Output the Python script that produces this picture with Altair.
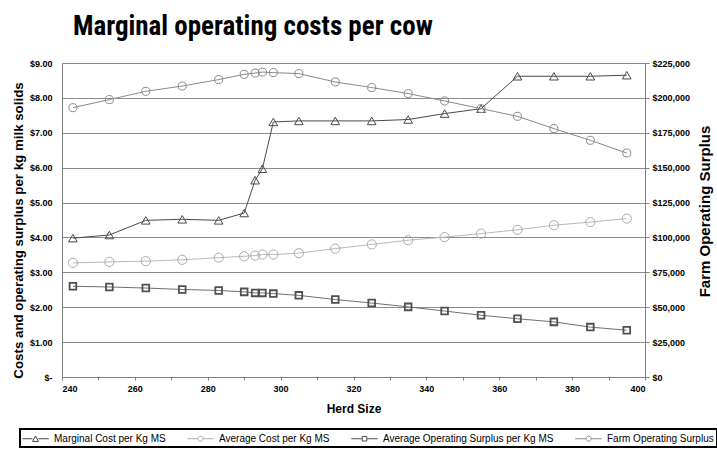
import altair as alt
import pandas as pd

# Herd sizes along the x axis
herd_size = [243, 253, 263, 273, 283, 290, 293, 295, 298, 305,
             315, 325, 335, 345, 355, 365, 375, 385, 395]

# $ per kg milk solids (left axis)
marginal_cost = [3.98, 4.07, 4.49, 4.52, 4.49, 4.70, 5.64, 5.97, 7.31, 7.34,
                 7.34, 7.34, 7.38, 7.55, 7.69, 8.62, 8.62, 8.62, 8.65]
average_cost = [3.27, 3.30, 3.32, 3.36, 3.42, 3.46, 3.48, 3.51, 3.51, 3.55,
                3.68, 3.80, 3.92, 4.01, 4.11, 4.22, 4.35, 4.44, 4.54]
average_surplus = [2.60, 2.58, 2.55, 2.51, 2.48, 2.44, 2.41, 2.41, 2.39, 2.34,
                   2.22, 2.12, 2.01, 1.89, 1.77, 1.67, 1.58, 1.43, 1.34]

# Whole-farm operating surplus in $ (right axis)
farm_surplus = [193000, 198800, 204700, 208500, 213100, 216900, 217800, 218500,
                218100, 217400, 211400, 207400, 203100, 197800, 192300, 186800,
                178000, 169600, 160500]

series_names = [
    "Marginal Cost per Kg MS",
    "Average Cost per Kg MS",
    "Average Operating Surplus per Kg MS",
    "Farm Operating Surplus",
]
line_colors = ["#4a4a4a", "#b8b8b8", "#707070", "#8a8a8a"]
marker_colors = ["#4a4a4a", "#ababab", "#505050", "#8a8a8a"]
marker_shapes = ["triangle-up", "circle", "square", "circle"]
marker_sizes = [75, 85, 45, 65]
marker_widths = [1.0, 1.0, 1.8, 1.0]

# Legend glyphs: a short line broken by the series marker
legend_glyphs = [
    "M-2.2,0H-0.5M0.5,0H2.2M-0.5,0.45L0,-0.45L0.5,0.45Z",
    "M-2.2,0H-0.45M0.45,0H2.2M-0.42,0A0.42,0.42 0 1,0 0.42,0A0.42,0.42 0 1,0 -0.42,0",
    "M-2.2,0H-0.4M0.4,0H2.2M-0.38,-0.38H0.38V0.38H-0.38Z",
    "M-2.2,0H-0.45M0.45,0H2.2M-0.42,0A0.42,0.42 0 1,0 0.42,0A0.42,0.42 0 1,0 -0.42,0",
]

all_values = [marginal_cost, average_cost, average_surplus, farm_surplus]
rows = []
for name, vals in zip(series_names, all_values):
    for h, v in zip(herd_size, vals):
        rows.append({"herd": h, "series": name, "value": v})
df = pd.DataFrame(rows)

FONT = "Liberation Sans, Arial, sans-serif"

x_enc = alt.X(
    "herd:Q",
    title="Herd Size",
    scale=alt.Scale(domain=[240, 400], nice=False, zero=False),
    axis=alt.Axis(
        values=list(range(240, 401, 10)),
        labelExpr="datum.value % 20 == 0 ? datum.value : ''",
        grid=False, tickSize=3, labelPadding=4, titlePadding=10,
    ),
)

y_left = alt.Y(
    "value:Q",
    title="Costs and operating surplus per kg milk solids",
    scale=alt.Scale(domain=[0, 9], nice=False),
    axis=alt.Axis(
        values=list(range(0, 10)),
        labelExpr="datum.value == 0 ? '$-' : '$' + format(datum.value, '.2f')",
        grid=True, tickSize=0, labelPadding=10, titlePadding=4,
        titleFontSize=13.3, titleY=167,
    ),
)

y_right = alt.Y(
    "value:Q",
    title="Farm Operating Surplus",
    scale=alt.Scale(domain=[0, 225000], nice=False),
    axis=alt.Axis(
        orient="right",
        values=list(range(0, 225001, 25000)),
        labelExpr="datum.value == 0 ? '$0' : '$' + format(datum.value, ',')",
        grid=False, tickSize=4, labelPadding=3, titlePadding=8,
        titleAngle=270, titleBaseline="top", titleFontSize=15, titleY=148,
    ),
)


def series_layers(i, y_enc):
    base = alt.Chart(df).transform_filter(alt.datum.series == series_names[i])
    line = base.mark_line(color=line_colors[i], strokeWidth=1).encode(x=x_enc, y=y_enc)
    pts = base.mark_point(
        shape=marker_shapes[i], filled=False, color=marker_colors[i],
        size=marker_sizes[i], strokeWidth=marker_widths[i], opacity=1,
    ).encode(x=x_enc, y=y_enc)
    return [line, pts]


legend = alt.Legend(
    title=None, orient="none", direction="horizontal", columns=4,
    legendX=-42, legendY=366,
    symbolSize=144, symbolStrokeWidth=1, symbolOffset=6,
    labelOffset=12, labelFont=FONT, labelFontSize=10, labelColor="black",
    labelLimit=300, columnPadding=19, padding=3,
    strokeColor="black", fillColor="white",
)

legend_layer = (
    alt.Chart(df)
    .transform_filter("false")
    .mark_point(filled=False, strokeWidth=1, opacity=1)
    .encode(
        x=x_enc,
        y=y_left,
        color=alt.Color("series:N", scale=alt.Scale(domain=series_names, range=marker_colors), legend=legend),
        shape=alt.Shape("series:N", scale=alt.Scale(domain=series_names, range=legend_glyphs), legend=legend),
    )
)

left_layers = []
for i in range(3):
    left_layers += series_layers(i, y_left)
left = alt.layer(*left_layers, legend_layer)
right = alt.layer(*series_layers(3, y_right))

chart = (
    alt.layer(left, right)
    .resolve_scale(y="independent")
    .properties(
        width=583,
        height=314,
        padding={"left": 62, "top": 63, "right": 72, "bottom": 73},
        autosize=alt.AutoSizeParams(type="none"),
        title=alt.TitleParams(
            "Marginal operating costs per cow",
            anchor="start", frame="group", dx=11, offset=18,
            font="Liberation Sans Narrow, Arial Narrow, Roboto Condensed, Liberation Sans, sans-serif",
            fontSize=27, fontWeight="bold", color="black",
        ),
    )
    .configure_view(stroke=None)
    .configure_legend(strokeWidth=2)
    .configure_axis(
        labelFont=FONT, labelFontSize=9, labelFontWeight="bold", labelColor="black",
        titleFont=FONT, titleFontSize=12, titleFontWeight="bold", titleColor="black",
        domainColor="#808080", tickColor="#808080", gridColor="#8c8c8c", gridWidth=1,
    )
)

chart.save("out.html", embed_options={"renderer": "svg", "actions": False})
